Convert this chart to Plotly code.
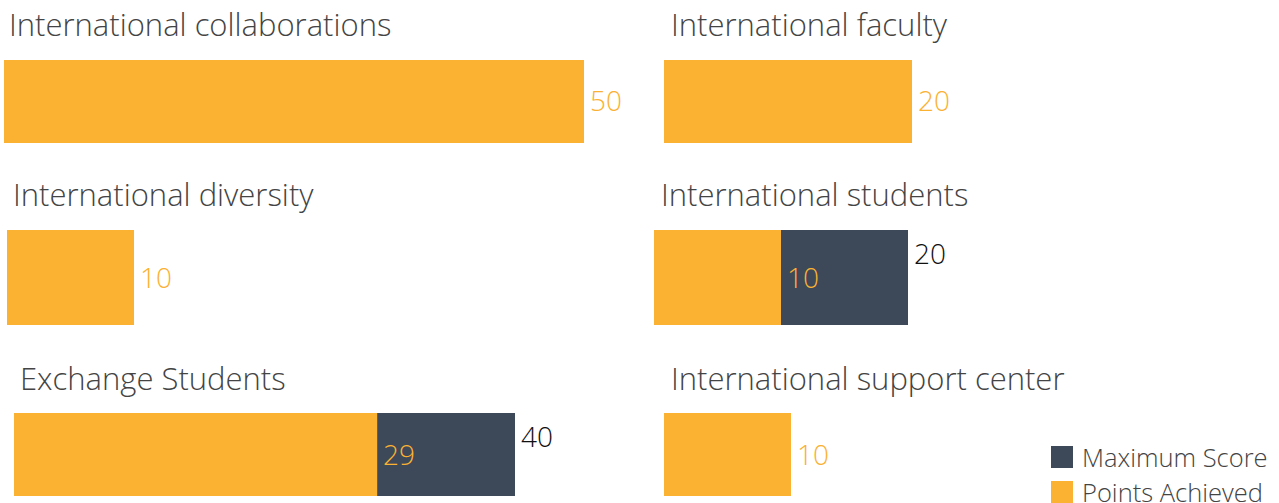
import plotly.graph_objects as go

categories = [
    "International collaborations",
    "International faculty",
    "International diversity",
    "International students",
    "Exchange Students",
    "International support center",
]
points_achieved = [50, 20, 10, 10, 29, 10]
maximum_score = [50, 20, 10, 20, 40, 10]
legend_labels = ["Maximum Score", "Points Achieved"]

W, H = 1279, 503
ORANGE = "#FBB131"
NAVY = "#3D4859"
TITLE_GREY = "#444444"
FONT = "Open Sans"

# pixel box of each panel: bar left edge, right edge at max score, bar top/bottom, title x / title centre y
panels = [
    dict(x0=4, x1=584, top=60, bottom=143, tx=7, ty=24),
    dict(x0=664, x1=912, top=60, bottom=143, tx=669, ty=24),
    dict(x0=7, x1=134, top=230, bottom=325, tx=11, ty=194),
    dict(x0=654, x1=908, top=230, bottom=325, tx=659, ty=194),
    dict(x0=14, x1=515, top=413, bottom=496, tx=18, ty=378),
    dict(x0=664, x1=791, top=413, bottom=496, tx=669, ty=378),
]


def px(x):
    return x / W


def py(y):
    return 1 - y / H


fig = go.Figure()
layout = {}
annotations = []

for i, (cat, got, mx, p) in enumerate(zip(categories, points_achieved, maximum_score, panels)):
    suffix = "" if i == 0 else str(i + 1)
    xa, ya = "x" + suffix, "y" + suffix
    pad = 1.1  # extra axis room so labels are not counted off-range
    scale = (p["x1"] - p["x0"]) / mx
    layout["xaxis" + suffix] = dict(
        domain=[px(p["x0"]), px(p["x0"] + scale * mx * pad)],
        range=[0, mx * pad], visible=False, anchor=ya, fixedrange=True,
    )
    layout["yaxis" + suffix] = dict(
        domain=[py(p["bottom"]), py(p["top"])],
        range=[-0.5, 0.5], visible=False, anchor=xa, fixedrange=True,
    )

    fig.add_trace(go.Bar(x=[mx], y=[0], orientation="h", width=1, marker=dict(color=NAVY, line_width=0),
                         xaxis=xa, yaxis=ya, showlegend=False, hoverinfo="skip"))
    fig.add_trace(go.Bar(x=[got], y=[0], orientation="h", width=1, marker=dict(color=ORANGE, line_width=0),
                         xaxis=xa, yaxis=ya, showlegend=False, hoverinfo="skip"))

    # value labels
    annotations.append(dict(x=got, y=0, xref=xa, yref=ya, text=str(got), showarrow=False,
                            xanchor="left", yanchor="middle", xshift=4, yshift=1,
                            font=dict(family=FONT, size=28, color=ORANGE, weight=300)))
    if mx > got:
        annotations.append(dict(x=mx, y=0.5, xref=xa, yref=ya, text=str(mx), showarrow=False,
                                xanchor="left", yanchor="middle", xshift=4, yshift=-23,
                                font=dict(family=FONT, size=28, color="#111111", weight=300)))
    # panel title
    annotations.append(dict(x=px(p["tx"]), y=py(p["ty"]), xref="paper", yref="paper", text=cat,
                            showarrow=False, xanchor="left", yanchor="middle",
                            font=dict(family=FONT, size=31, color=TITLE_GREY, weight=300)))

# legend drawn by hand so the swatches can be large
shapes = []
for j, (lab, col) in enumerate(zip(legend_labels, [NAVY, ORANGE])):
    top = 446 + j * 35
    shapes.append(dict(type="rect", xref="paper", yref="paper", x0=px(1051), x1=px(1073),
                       y0=py(top + 22), y1=py(top), fillcolor=col, line_width=0))
    annotations.append(dict(x=px(1080), y=py(top + 11), xref="paper", yref="paper", text=lab,
                            showarrow=False, xanchor="left", yanchor="middle",
                            font=dict(family=FONT, size=25.5, color=TITLE_GREY, weight=300)))

fig.update_layout(
    **layout,
    barmode="overlay",
    width=W,
    height=H,
    margin=dict(l=0, r=0, t=0, b=0),
    paper_bgcolor="white",
    plot_bgcolor="white",
    annotations=annotations,
    shapes=shapes,
    showlegend=False,
)

fig.write_html("out.html", config={"displayModeBar": False},
               post_script="document.body.style.margin='0';")
